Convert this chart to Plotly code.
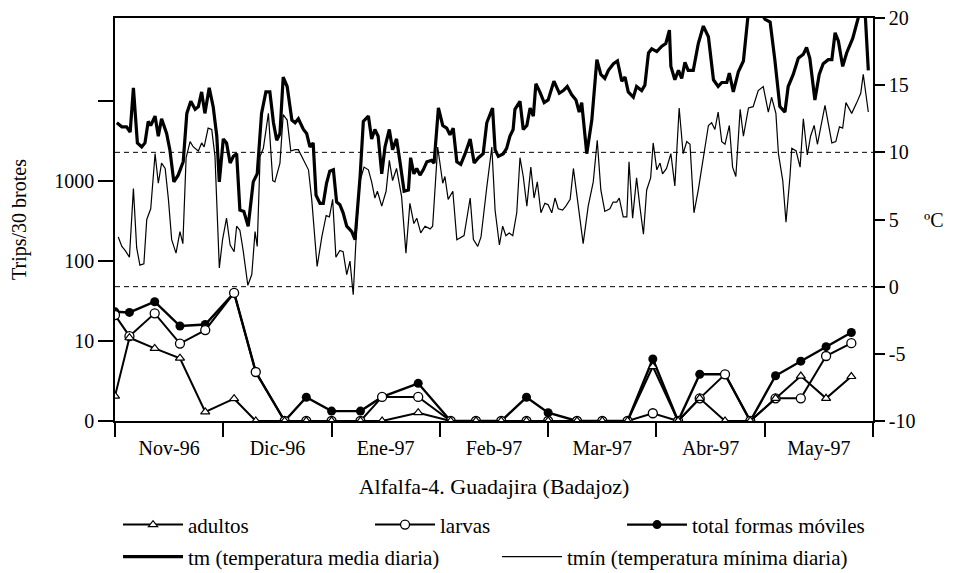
import plotly.graph_objects as go

# ---- data ----
months = ["Nov-96", "Dic-96", "Ene-97", "Feb-97", "Mar-97", "Abr-97", "May-97"]
month_edges = [0, 30, 60, 90, 120, 150, 180, 210]
month_mid = [15, 45, 75, 105, 135, 165, 195]

count_day = [0, 4, 11, 18, 25, 33, 39, 47, 53, 60, 68, 74, 84, 93, 100,
             107, 114, 120, 128, 135, 142, 149, 156, 162, 169, 176, 183, 190, 197, 204]
adultos = [2.05, 11.0, 8.1, 6.1, 1.3, 1.9, 0, 0, 0, 0, 0, 0, 1.27, 0, 0,
           0, 0, 0, 0, 0, 0, 4.8, 0, 1.92, 0, 0, 1.92, 3.65, 1.92, 3.6]
larvas = [21.1, 11.5, 22.2, 9.3, 13.7, 40, 4.1, 0, 0, 0, 0, 2.0, 2.0, 0, 0,
          0, 0, 0, 0, 0, 0, 1.25, 0, 1.92, 3.84, 0, 1.92, 1.92, 6.5, 9.4]
total = [23.2, 22.8, 31, 15.4, 16.1, 40, 4.1, 0, 1.98, 1.33, 1.33, 2.0, 2.96, 0, 0,
         0, 1.98, 1.27, 0, 0, 0, 5.96, 0, 3.84, 3.84, 0, 3.68, 5.6, 8.5, 12.8]

tm_day = [0.5, 1.9, 3.2, 4.2, 5.1, 6.2, 7.4, 8.3, 9.2, 9.9, 11.1, 12.0, 12.9, 14.3, 15.2,
          16.3, 17.5, 18.9, 19.9, 21.0, 22.2, 23.1, 24.0, 24.9, 26.1, 27.2, 28.2, 28.9,
          30.0, 30.9, 31.9, 32.8, 33.7, 34.6, 35.7, 36.9, 38.3, 39.4, 40.6, 41.8, 42.9,
          43.9, 44.8, 45.7, 46.6, 47.7, 49.0, 49.9, 50.8, 52.2, 53.1, 54.0, 54.9, 55.7,
          56.8, 57.7, 58.6, 59.5, 60.5, 61.4, 62.3, 63.2, 64.2, 65.6, 66.5, 67.9, 68.8,
          70.2, 71.1, 72.0, 72.9, 73.9, 74.8, 76.0, 76.9, 78.0, 79.0, 80.1, 81.3, 81.9,
          82.8, 83.6, 84.5, 85.4, 86.4, 87.7, 88.4, 89.6, 90.8, 91.9, 92.8, 93.7, 94.7,
          95.8, 97.0, 98.4, 99.5, 100.7, 102.0, 103.0, 104.6, 105.3, 106.2, 107.6, 108.5,
          109.4, 110.3, 110.8, 112.2, 113.1, 114.1, 115.0, 115.9, 116.6, 117.7, 118.9,
          120.0, 121.6, 123.1, 124.2, 125.3, 126.5, 127.7, 128.6, 129.3, 130.7, 132.1,
          133.5, 134.6, 135.7, 136.7, 138.1, 139.2, 140.4, 141.3, 142.2, 143.6, 144.5,
          145.9, 146.8, 147.8, 148.7, 150.1, 151.5, 152.6, 153.6, 154.0, 155.1, 156.1,
          157.0, 157.9, 158.8, 160.2, 161.6, 163.0, 164.4, 165.8, 167.1, 168.1, 169.5,
          170.2, 171.3, 172.7, 174.1, 175.5, 176.8, 178.2, 179.2, 180.1, 181.5, 182.8,
          184.2, 185.6, 186.5, 187.9, 189.3, 190.7, 191.6, 192.5, 193.9, 195.1, 196.2,
          197.6, 198.6, 199.5, 200.4, 201.6, 202.7, 204.4, 205.9, 206.9, 207.8, 208.7]
tm_val = [12.2, 11.9, 11.9, 11.5, 14.8, 10.7, 10.4, 10.7, 12.3, 12.0, 12.7, 11.2, 12.5, 11.4, 10.2,
          7.8, 8.3, 9.3, 12.9, 13.8, 13.2, 13.4, 14.5, 12.9, 14.8, 13.4, 11.2, 7.8,
          11.0, 10.7, 9.2, 9.7, 9.9, 5.7, 5.6, 4.5, 7.8, 8.4, 12.9, 14.5, 14.5,
          12.2, 10.9, 11.4, 15.6, 14.9, 12.4, 12.2, 12.5, 11.7, 11.4, 10.4, 10.7, 6.8,
          6.2, 6.2, 7.7, 8.6, 8.7, 6.3, 6.1, 5.5, 4.5, 4.1, 3.5, 8.2, 12.3,
          12.7, 11.0, 11.7, 11.2, 8.4, 10.4, 11.7, 10.2, 11.0, 9.2, 7.1, 7.2, 9.6,
          8.4, 8.8, 8.3, 8.7, 9.3, 9.4, 9.2, 13.3, 12.0, 11.8, 11.3, 11.8, 9.3,
          9.1, 9.9, 11.0, 9.2, 9.6, 9.9, 12.2, 13.3, 10.2, 9.7, 9.9, 10.3,
          11.2, 11.7, 13.2, 13.8, 11.7, 12.0, 13.3, 12.7, 15.1, 14.5, 13.7,
          13.9, 15.3, 14.4, 14.6, 14.9, 14.3, 13.9, 13.0, 13.7, 9.9, 12.4,
          16.9, 15.8, 15.5, 16.1, 16.6, 16.8, 15.3, 15.6, 14.5, 14.1, 14.9,
          14.6, 15.0, 17.4, 17.7, 17.5, 17.9, 18.1, 19.1, 16.4, 15.4, 16.1,
          15.5, 16.7, 16.1, 16.1, 18.1, 19.4, 18.6, 15.4, 14.9, 15.2, 15.2,
          15.9, 14.5, 16.0, 16.8, 20.5, 21.5, 21.5, 20.3, 19.9, 19.7, 16.9,
          13.4, 13.0, 14.9, 15.8, 17.0, 17.3, 17.8, 17.0, 13.9, 15.8, 16.6,
          16.9, 16.9, 18.9, 18.3, 16.4, 17.4, 18.5, 20.0, 21.0, 20.5, 16.1]

tmin_day = [0.9, 1.9, 2.8, 4.0, 5.1, 6.0, 6.9, 8.0, 8.8, 9.9, 11.1, 12.0, 12.9, 13.9, 14.8,
            15.7, 16.9, 18.0, 18.8, 19.7, 20.8, 21.7, 23.1, 24.0, 24.7, 25.8, 26.8, 27.7,
            28.9, 29.8, 30.9, 31.9, 33.0, 33.7, 34.6, 35.5, 36.8, 37.9, 38.8, 39.4, 40.2,
            41.1, 42.5, 43.7, 44.3, 45.7, 46.6, 47.7, 48.7, 49.9, 50.8, 51.7, 52.6, 53.6,
            54.5, 56.0, 57.3, 58.5, 59.4, 60.3, 61.2, 62.3, 63.2, 64.2, 65.1, 66.0, 67.0,
            67.9, 69.0, 70.2, 71.1, 72.0, 72.7, 73.9, 75.1, 76.0, 76.9, 78.0, 79.4, 80.6,
            81.7, 82.8, 83.6, 84.7, 85.9, 87.3, 88.0, 89.4, 90.8, 91.4, 92.3, 93.6, 94.7,
            95.8, 96.7, 98.4, 99.3, 100.5, 101.4, 103.0, 104.4, 105.3, 106.5, 107.4, 108.3,
            109.2, 110.2, 111.3, 112.2, 113.1, 114.1, 115.2, 116.1, 117.0, 118.0, 119.1,
            120.0, 121.0, 121.9, 122.8, 124.0, 124.9, 126.1, 127.0, 128.4, 129.7, 131.1,
            132.5, 133.6, 134.6, 135.7, 137.1, 138.0, 139.0, 139.7, 140.8, 141.8, 142.4,
            143.4, 144.5, 145.4, 146.4, 147.3, 148.4, 149.1, 150.1, 151.0, 151.7, 152.8,
            154.0, 155.1, 156.3, 157.4, 158.4, 159.3, 160.4, 161.6, 163.0, 164.4, 165.3,
            166.2, 167.1, 168.1, 169.0, 170.2, 171.1, 172.0, 173.2, 174.1, 175.5, 176.8,
            178.2, 179.6, 181.0, 181.9, 183.1, 183.8, 185.0, 185.9, 187.0, 187.5, 188.7,
            189.8, 190.7, 191.8, 192.7, 193.7, 194.6, 195.8, 196.7, 198.6, 199.7, 200.7,
            201.6, 202.5, 204.1, 205.5, 206.6, 207.3, 208.7]
tmin_val = [3.7, 3.0, 2.7, 2.2, 7.3, 2.9, 1.6, 1.7, 5.0, 5.8, 9.9, 7.7, 9.2, 8.8, 6.5,
            3.5, 2.5, 4.1, 3.2, 9.6, 10.8, 10.4, 10.1, 10.7, 10.4, 11.8, 11.7, 9.7,
            1.4, 3.5, 5.1, 3.1, 2.6, 4.5, 4.2, 2.7, 0.1, 0.9, 4.1, 3.0, 9.7,
            10.3, 12.9, 7.9, 7.8, 9.2, 12.8, 12.4, 10.1, 10.2, 10.2, 9.7, 9.2, 8.7,
            6.5, 1.5, 3.7, 5.3, 5.2, 6.5, 2.2, 2.7, 2.6, 0.9, 1.9, -0.6, 4.7,
            7.9, 8.9, 8.7, 7.8, 6.6, 7.1, 6.0, 7.1, 9.4, 7.9, 8.8, 6.7, 2.5,
            6.2, 4.7, 5.1, 4.0, 4.5, 4.3, 4.5, 10.4, 7.7, 8.2, 6.5, 7.1, 3.5,
            3.7, 3.8, 6.6, 3.5, 3.0, 3.7, 7.4, 10.4, 5.7, 3.1, 4.5, 3.8,
            4.0, 3.8, 5.5, 9.6, 8.2, 6.0, 8.9, 6.6, 7.8, 5.5, 6.2,
            6.1, 5.5, 6.6, 5.8, 5.7, 6.0, 6.5, 8.8, 6.0, 3.2, 6.0,
            7.8, 10.9, 7.2, 5.6, 5.8, 6.3, 6.3, 6.6, 5.2, 5.2, 9.3,
            5.1, 8.1, 6.0, 3.9, 7.2, 8.1, 10.7, 8.7, 9.2, 8.4, 8.8,
            9.9, 7.5, 13.3, 9.9, 10.8, 10.6, 5.5, 7.2, 9.6, 12.0, 12.2,
            11.7, 13.0, 10.8, 10.6, 12.0, 8.9, 8.2, 13.2, 11.2, 13.3, 13.4,
            14.6, 14.9, 13.0, 14.1, 12.9, 9.9, 7.9, 4.8, 8.2, 10.3, 10.1,
            8.9, 12.5, 9.8, 11.2, 12.0, 10.6, 12.4, 13.5, 10.7, 10.8, 11.9,
            11.8, 13.7, 12.9, 13.7, 14.4, 15.8, 13.0]

count_ticks = [1, 10, 100, 1000, 10000]
count_ticktext = ["0", "10", "100", "1000", ""]
temp_ticks = [-10, -5, 0, 5, 10, 15, 20]
temp_ticktext = ["-10", "-5", "0", "5", "10", "15", "20"]

FONT = "Liberation Serif"
TICK_FS = 20
TITLE_FS = 22
LEG_FS = 21


def on_log(vals):
    # a zero count is drawn on the "0" line of the log axis
    return [v if v > 0 else 1 for v in vals]


def f(size):
    return dict(family=FONT, size=size, color="black")


fig = go.Figure()

fig.add_trace(go.Scatter(x=tm_day, y=tm_val, yaxis="y2", mode="lines",
                         line=dict(color="black", width=3.2),
                         name="tm (temperatura media diaria)", legend="legend2"))
fig.add_trace(go.Scatter(x=tmin_day, y=tmin_val, yaxis="y2", mode="lines",
                         line=dict(color="black", width=1.2),
                         name="tmín (temperatura mínima diaria)", legend="legend2"))

fig.add_trace(go.Scatter(x=count_day, y=on_log(total), mode="lines+markers",
                         line=dict(color="black", width=2.4),
                         marker=dict(symbol="circle", size=9, color="black"),
                         name="total formas móviles", legend="legend", legendrank=3))
fig.add_trace(go.Scatter(x=count_day, y=on_log(larvas), mode="lines+markers",
                         line=dict(color="black", width=2),
                         marker=dict(symbol="circle", size=9, color="white",
                                     line=dict(color="black", width=1.3)),
                         name="larvas", legend="legend", legendrank=2))
fig.add_trace(go.Scatter(x=count_day, y=on_log(adultos), mode="lines+markers",
                         line=dict(color="black", width=2),
                         marker=dict(symbol="triangle-up", size=8, color="white",
                                     line=dict(color="black", width=1.2)),
                         name="adultos", legend="legend", legendrank=1))
# carrier for the month-label axis
fig.add_trace(go.Scatter(x=[], y=[], xaxis="x2", showlegend=False))

for lvl in (0, 10):
    fig.add_shape(type="line", xref="paper", x0=0, x1=1, yref="y2", y0=lvl, y1=lvl,
                  line=dict(color="black", width=1, dash="5px,4px"), layer="below")

fig.update_layout(
    width=955, height=573,
    margin=dict(l=115, r=82, t=18, b=152, autoexpand=False),
    paper_bgcolor="white", plot_bgcolor="white",
    font=f(TICK_FS),
    xaxis=dict(range=[0, 210], tickvals=month_edges, showticklabels=False,
               ticks="outside", ticklen=14, tickwidth=1.5, tickcolor="black",
               showline=True, linecolor="black", linewidth=1.5, mirror=True,
               showgrid=False, zeroline=False),
    xaxis2=dict(range=[0, 210], overlaying="x", anchor="y", side="bottom",
                tickvals=month_mid, ticktext=months,
                ticks="outside", ticklen=9, tickcolor="rgba(0,0,0,0)",
                showline=False, showgrid=False, zeroline=False,
                tickfont=f(TICK_FS),
                title=dict(text="Alfalfa-4. Guadajira (Badajoz)", standoff=19,
                           font=f(TITLE_FS))),
    yaxis=dict(type="log", range=[0, 5.04], tickvals=count_ticks, ticktext=count_ticktext,
               ticks="outside", ticklen=15, tickwidth=1.5, tickcolor="black",
               showline=True, linecolor="black", linewidth=1.5,
               showgrid=False, zeroline=False, tickfont=f(TICK_FS),
               title=dict(text="Trips/30 brotes", standoff=22, font=f(TICK_FS))),
    yaxis2=dict(range=[-10, 20], overlaying="y", side="right",
                tickvals=temp_ticks, ticktext=temp_ticktext,
                ticks="outside", ticklen=10, tickwidth=1.5, tickcolor="black",
                showline=True, linecolor="black", linewidth=1.5,
                showgrid=False, zeroline=False, tickfont=f(TICK_FS)),
    legend=dict(orientation="h", x=0.004, y=-0.258, xanchor="left", yanchor="middle",
                entrywidth=177, entrywidthmode="pixels", traceorder="normal",
                itemwidth=60, font=f(LEG_FS), bgcolor="rgba(0,0,0,0)"),
    legend2=dict(orientation="h", x=0.004, y=-0.3375, xanchor="left", yanchor="middle",
                 entrywidth=304, entrywidthmode="pixels", traceorder="normal",
                 itemwidth=60, font=f(LEG_FS), bgcolor="rgba(0,0,0,0)"),
    showlegend=True,
    annotations=[dict(text="ºC", xref="paper", yref="y2", x=1.064, y=5,
                      xanchor="left", yanchor="middle", showarrow=False,
                      font=f(TICK_FS))],
)

fig.write_html("out.html", config={"displayModeBar": False},
               post_script="document.body.style.margin='0px';")
